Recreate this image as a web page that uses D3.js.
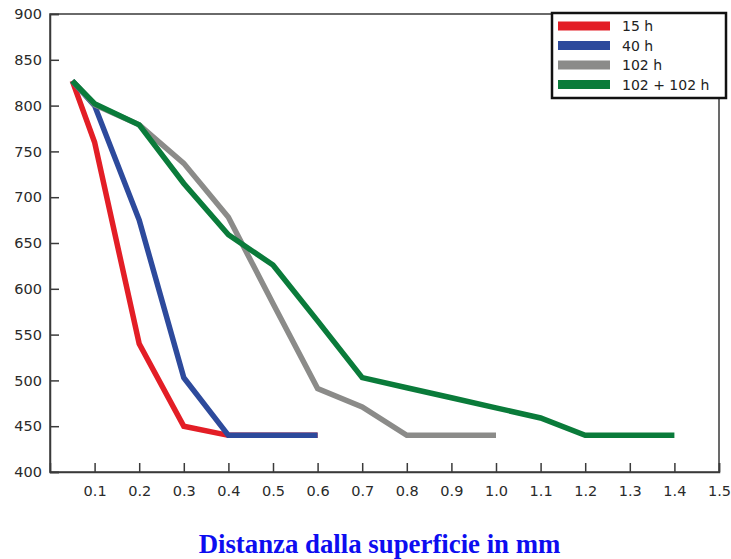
<!DOCTYPE html>
<html>
<head>
<meta charset="utf-8">
<script src="https://cdn.jsdelivr.net/npm/d3@7"></script>
<style>
  body { margin: 0; background: #fff; }
  svg { display: block; }
  .tick text { font-family: "DejaVu Sans", sans-serif; font-size: 14.5px; fill: #2a2a2a; }
</style>
</head>
<body>
<div id="chart"></div>
<script>
// values (distance in mm -> value)
const dist15 = [0.05, 0.1, 0.2, 0.3, 0.4, 0.5, 0.6];
const val15 = [827, 760, 540, 450, 440, 440, 440];

const dist40 = [0.05, 0.1, 0.2, 0.3, 0.4, 0.5, 0.6];
const val40 = [827, 800, 675, 503, 440, 440, 440];

const dist102 = [0.05, 0.1, 0.2, 0.3, 0.4, 0.5, 0.6, 0.7, 0.8, 0.9, 1.0];
const val102 = [827, 801, 779, 737, 678, 584, 491, 471, 440, 440, 440];

const dist204 = [0.05, 0.1, 0.2, 0.3, 0.4, 0.5, 0.6, 0.7, 0.8, 0.9, 1.0, 1.1, 1.2, 1.3, 1.4];
const val204 = [827, 802, 779, 715, 659, 626, 565, 503, 492, 481, 470, 459, 440, 440, 440];

const seriesNames = ["15 h", "40 h", "102 h", "102 + 102 h"];
const seriesColors = ["#e31e26", "#2d4a9c", "#8b8b89", "#0a7b3a"];

const xTicks = [0.1, 0.2, 0.3, 0.4, 0.5, 0.6, 0.7, 0.8, 0.9, 1.0, 1.1, 1.2, 1.3, 1.4, 1.5];
const yTicks = [400, 450, 500, 550, 600, 650, 700, 750, 800, 850, 900];

const xTitle = "Distanza dalla superficie in mm";

const W = 731, H = 559;
const margin = {top: 14, right: 12, bottom: 87, left: 50};
const width = W - margin.left - margin.right;
const height = H - margin.top - margin.bottom;

const svg = d3.select("#chart").append("svg")
    .attr("width", W)
    .attr("height", H);

const g = svg.append("g")
    .attr("transform", "translate(" + margin.left + "," + margin.top + ")");

const x = d3.scaleLinear().domain([0, 1.5]).range([0, width]);
const y = d3.scaleLinear().domain([400, 900]).range([height, 0]);

// frame
g.append("rect")
    .attr("width", width)
    .attr("height", height)
    .attr("fill", "none")
    .attr("stroke", "#3a3a3a")
    .attr("stroke-width", 1.5);

// axes, ticks pointing inside
const yAxis = g.append("g")
    .call(d3.axisLeft(y).tickValues(yTicks).tickSize(-9).tickPadding(8).tickFormat(d3.format("d")));
const xAxis = g.append("g")
    .attr("transform", "translate(0," + height + ")")
    .call(d3.axisBottom(x).tickValues(xTicks).tickSize(-9).tickPadding(14).tickFormat(d3.format(".1f")));

[xAxis, yAxis].forEach(a => {
    a.select(".domain").attr("stroke", "#3a3a3a").attr("stroke-width", 1.5);
    a.selectAll(".tick line").attr("stroke", "#3a3a3a").attr("stroke-width", 1.5);
});

// lines
const line = d3.line()
    .x(d => x(d[0]))
    .y(d => y(d[1]));

const series = [
    d3.zip(dist15, val15),
    d3.zip(dist40, val40),
    d3.zip(dist102, val102),
    d3.zip(dist204, val204)
];

series.forEach((s, i) => {
    g.append("path")
        .datum(s)
        .attr("d", line)
        .attr("fill", "none")
        .attr("stroke", seriesColors[i])
        .attr("stroke-width", 5.5)
        .attr("stroke-linejoin", "miter");
});

// legend
const legend = svg.append("g").attr("transform", "translate(552,13)");
legend.append("rect")
    .attr("width", 174)
    .attr("height", 85)
    .attr("fill", "#fff")
    .attr("stroke", "#111")
    .attr("stroke-width", 2.5);

seriesNames.forEach((name, i) => {
    const row = legend.append("g").attr("transform", "translate(0," + (13 + i * 19.5) + ")");
    row.append("rect")
        .attr("x", 6)
        .attr("y", -4.5)
        .attr("width", 52)
        .attr("height", 9)
        .attr("fill", seriesColors[i]);
    row.append("text")
        .attr("x", 70)
        .attr("dy", "0.36em")
        .attr("font-family", "DejaVu Sans, sans-serif")
        .attr("font-size", "14px")
        .attr("fill", "#222")
        .text(name);
});

// axis title
svg.append("text")
    .attr("x", 379.5)
    .attr("y", 553)
    .attr("text-anchor", "middle")
    .attr("font-family", "Liberation Serif, serif")
    .attr("font-weight", "bold")
    .attr("font-size", "26.8px")
    .attr("fill", "#0d0df0")
    .text(xTitle);
</script>
</body>
</html>
